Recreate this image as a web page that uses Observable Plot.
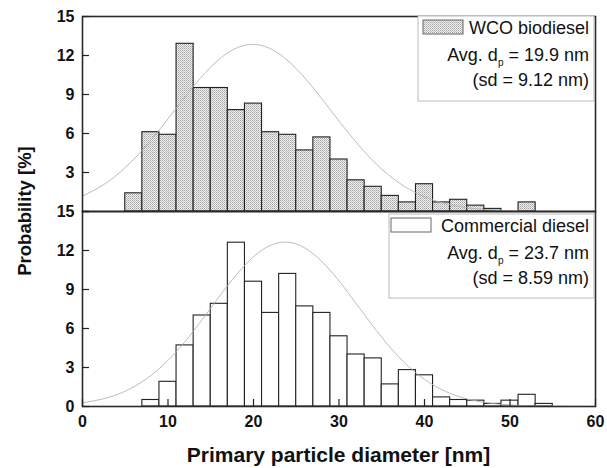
<!DOCTYPE html>
<html>
<head>
<meta charset="utf-8">
<script src="https://cdn.jsdelivr.net/npm/d3@7"></script>
<script src="https://cdn.jsdelivr.net/npm/@observablehq/plot@0.6"></script>
<style>
  html, body { margin: 0; padding: 0; background: #fff; }
  #chart svg { display: block; }
</style>
</head>
<body>
<svg width="0" height="0" style="position:absolute">
  <defs>
    <pattern id="dots" width="2" height="2" patternUnits="userSpaceOnUse">
      <rect width="2" height="2" fill="#f2f2f2"></rect>
      <rect x="0" y="0" width="1" height="1" fill="#a0a0a0"></rect>
      <rect x="1" y="1" width="1" height="1" fill="#c0c0c0"></rect>
    </pattern>
  </defs>
</svg>
<div id="chart"></div>
<script>
// ---------- data ----------
const panels = ["WCO biodiesel", "Commercial diesel"];
const binWidth = 2;

const binStartWCO = [5, 7, 9, 11, 13, 15, 17, 19, 21, 23, 25, 27, 29, 31, 33, 35, 37, 39, 41, 43, 45, 47, 49, 51];
const probWCO     = [1.4, 6.1, 5.9, 12.9, 9.5, 9.5, 7.8, 8.3, 6.1, 5.9, 4.7, 5.7, 4.0, 2.4, 1.9, 1.2, 0.7, 2.1, 0.7, 0.9, 0.45, 0.2, 0, 0.7];

const binStartDiesel = [7, 9, 11, 13, 15, 17, 19, 21, 23, 25, 27, 29, 31, 33, 35, 37, 39, 41, 43, 45, 47, 49, 51, 53];
const probDiesel     = [0.5, 1.9, 4.7, 7.0, 7.9, 12.6, 9.6, 7.2, 10.2, 7.7, 7.2, 5.4, 4.0, 3.7, 1.7, 2.8, 2.4, 0.7, 0.5, 0.45, 0.2, 0.45, 0.9, 0.2];

// fitted normal curves
const curveX      = [0, 2.5, 5, 7.5, 10, 12.5, 15, 17.5, 20, 22.5, 25, 27.5, 30, 32.5, 35, 37.5, 40, 42.5, 45, 47.5, 50, 52.5, 55, 57.5, 60];
const curveWCO    = [1.19, 2.08, 3.38, 5.10, 7.13, 9.25, 11.12, 12.41, 12.85, 12.34, 10.99, 9.08, 6.96, 4.95, 3.26, 2.00, 1.13, 0.60, 0.29, 0.13, 0.06, 0.02, 0.01, 0, 0];
const curveDiesel = [0.28, 0.60, 1.18, 2.14, 3.54, 5.40, 7.57, 9.74, 11.52, 12.52, 12.50, 11.46, 9.66, 7.48, 5.32, 3.48, 2.09, 1.15, 0.58, 0.27, 0.12, 0.05, 0.02, 0.01, 0];

const yTicks = [0, 3, 6, 9, 12, 15];
const xTicks = [0, 10, 20, 30, 40, 50, 60];

const legendNames = ["WCO biodiesel", "Commercial diesel"];
const avgDp = ["19.9", "23.7"];
const sdDp  = ["9.12", "8.59"];

const xTitle = "Primary particle diameter [nm]";
const yTitle = "Probability [%]";

// ---------- tables ----------
const bars = [
  ...binStartWCO.map((s, i) => ({panel: panels[0], x1: s, x2: s + binWidth, p: probWCO[i]})),
  ...binStartDiesel.map((s, i) => ({panel: panels[1], x1: s, x2: s + binWidth, p: probDiesel[i]}))
];
const curves = [
  ...curveX.map((x, i) => ({panel: panels[0], x, y: curveWCO[i]})),
  ...curveX.map((x, i) => ({panel: panels[1], x, y: curveDiesel[i]}))
];
const yLabels = [
  ...yTicks.filter(v => v > 0).map(v => ({panel: panels[0], v})),
  ...yTicks.map(v => ({panel: panels[1], v}))
];

const font = "'Liberation Sans', Arial, Helvetica, sans-serif";

const chart = Plot.plot({
  width: 607,
  height: 468,
  marginTop: 16,
  marginBottom: 62,
  marginLeft: 82,
  marginRight: 12,
  style: {fontFamily: font, fontSize: "16px", color: "#111", background: "#fff"},
  x: {domain: [0, 60]},
  y: {domain: [0, 15]},
  fy: {domain: panels, padding: 0, axis: null},
  marks: [
    Plot.rectY(bars.filter(d => d.panel === panels[0]), {
      x1: "x1", x2: "x2", y: "p", fy: "panel",
      fill: "url(#dots)", stroke: "#222", strokeWidth: 1.1
    }),
    Plot.rectY(bars.filter(d => d.panel === panels[1]), {
      x1: "x1", x2: "x2", y: "p", fy: "panel",
      fill: "#fff", stroke: "#222", strokeWidth: 1.1
    }),
    Plot.line(curves, {x: "x", y: "y", fy: "panel", z: "panel", stroke: "#b0b0b0", strokeWidth: 0.85, curve: "natural"}),
    Plot.frame({stroke: "#2a2a2a", strokeWidth: 1.6}),
    // inward y ticks
    Plot.axisY({ticks: yTicks, tickSize: 7, dx: 7, tickFormat: () => "", label: null, stroke: "#222", strokeWidth: 1.2}),
    // y tick labels (top panel hides its 0)
    Plot.text(yLabels, {
      y: "v", fy: "panel", text: d => String(d.v), frameAnchor: "left",
      dx: -8, textAnchor: "end", fontWeight: "bold", fontSize: 16, fill: "#111"
    }),
    // inward x ticks + labels
    Plot.axisX({ticks: xTicks, tickSize: 7, dy: -7, tickFormat: () => "", label: null, stroke: "#222", strokeWidth: 1.2}),
    Plot.axisX({ticks: xTicks, tickSize: 0, tickPadding: 9, label: null, fontWeight: "bold", fontSize: 16, fill: "#111"})
  ]
});

document.getElementById("chart").appendChild(chart);

// ---------- titles & legends ----------
const svg = d3.select(chart);
const xs = chart.scale("x");
const fys = chart.scale("fy");
const right = xs.apply(60);
const left = xs.apply(0);
const top0 = fys.apply(panels[0]);
const top1 = fys.apply(panels[1]);
const bottom = top1 + fys.bandwidth;

svg.append("text")
  .attr("x", (left + right) / 2)
  .attr("y", bottom + 56)
  .attr("text-anchor", "middle")
  .attr("font-family", font)
  .attr("font-weight", "bold")
  .attr("font-size", 21)
  .attr("fill", "#111")
  .text(xTitle);

svg.append("text")
  .attr("transform", `translate(${left - 57},${top1}) rotate(-90)`)
  .attr("text-anchor", "middle")
  .attr("dy", "0.35em")
  .attr("font-family", font)
  .attr("font-weight", "bold")
  .attr("font-size", 18.5)
  .attr("fill", "#111")
  .text(yTitle);

const legendLayout = [
  {top: top0, boxLeft: right - 177, boxTop: 0, boxH: 85, swX: right - 172},
  {top: top1, boxLeft: right - 206, boxTop: 3, boxH: 84, swX: right - 204}
];

legendLayout.forEach((L, i) => {
  const g = svg.append("g").attr("font-family", font).attr("fill", "#111");
  g.append("rect")
    .attr("x", L.boxLeft).attr("y", L.top + L.boxTop)
    .attr("width", right - L.boxLeft - 1).attr("height", L.boxH)
    .attr("fill", "#fff").attr("stroke", "#bbb").attr("stroke-width", 1);
  g.append("rect")
    .attr("x", L.swX).attr("y", L.top + L.boxTop + 4)
    .attr("width", 40).attr("height", 14)
    .attr("fill", i === 0 ? "url(#dots)" : "#fff")
    .attr("stroke", "#666").attr("stroke-width", 1);
  g.append("text")
    .attr("x", right - 6).attr("y", L.top + L.boxTop + 18)
    .attr("text-anchor", "end").attr("font-size", 18)
    .text(legendNames[i]);
  const t = g.append("text")
    .attr("x", right - 6).attr("y", L.top + L.boxTop + 45)
    .attr("text-anchor", "end").attr("font-size", 18);
  t.append("tspan").text("Avg. d");
  t.append("tspan").attr("font-size", 10).attr("dy", 5).text("p");
  t.append("tspan").attr("dy", -5).text(` = ${avgDp[i]} nm`);
  g.append("text")
    .attr("x", right - 6).attr("y", L.top + L.boxTop + 70)
    .attr("text-anchor", "end").attr("font-size", 18)
    .text(`(sd = ${sdDp[i]} nm)`);
});
</script>
</body>
</html>
